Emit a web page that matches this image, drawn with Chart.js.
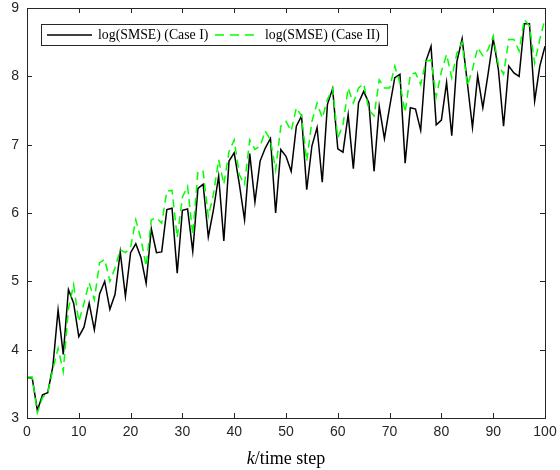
<!DOCTYPE html>
<html>
<head>
<meta charset="utf-8">
<script src="https://cdn.jsdelivr.net/npm/chart.js@4.4.1/dist/chart.umd.min.js"></script>
<style>
  html, body { margin: 0; padding: 0; background: #fff; }
  #chart { display: block; }
</style>
</head>
<body>
<canvas id="chart" width="560" height="470"></canvas>
<script>
// time steps k = 0..100
const steps = [
  0, 1, 2, 3, 4, 5, 6, 7, 8, 9, 10, 11, 12, 13, 14, 15, 16, 17, 18, 19,
  20, 21, 22, 23, 24, 25, 26, 27, 28, 29, 30, 31, 32, 33, 34, 35, 36, 37, 38, 39,
  40, 41, 42, 43, 44, 45, 46, 47, 48, 49, 50, 51, 52, 53, 54, 55, 56, 57, 58, 59,
  60, 61, 62, 63, 64, 65, 66, 67, 68, 69, 70, 71, 72, 73, 74, 75, 76, 77, 78, 79,
  80, 81, 82, 83, 84, 85, 86, 87, 88, 89, 90, 91, 92, 93, 94, 95, 96, 97, 98, 99, 100
];

const caseI = [
  3.59, 3.59, 3.11, 3.34, 3.37, 3.76, 4.58, 3.93, 4.88, 4.68,
  4.19, 4.33, 4.68, 4.29, 4.81, 5.00, 4.59, 4.81, 5.43, 4.78,
  5.42, 5.55, 5.35, 4.97, 5.77, 5.42, 5.43, 6.05, 6.07, 5.12,
  6.04, 6.06, 5.44, 6.36, 6.42, 5.65, 6.05, 6.54, 5.59, 6.76,
  6.88, 6.42, 5.90, 6.87, 6.16, 6.76, 6.95, 7.09, 6.00, 6.93,
  6.83, 6.61, 7.27, 7.42, 6.34, 6.98, 7.25, 6.45, 7.59, 7.82,
  6.94, 6.89, 7.44, 6.65, 7.61, 7.78, 7.61, 6.61, 7.56, 7.09,
  7.55, 7.98, 8.03, 6.73, 7.54, 7.52, 7.21, 8.22, 8.44, 7.29,
  7.36, 7.91, 7.13, 8.22, 8.55, 7.91, 7.25, 8.01, 7.54, 8.03,
  8.55, 8.10, 7.27, 8.15, 8.05, 8.00, 8.77, 8.77, 7.64, 8.15, 8.44
];

const caseII = [
  3.60, 3.60, 3.08, 3.30, 3.37, 3.71, 4.02, 3.68, 4.60, 4.95,
  4.41, 4.68, 4.98, 4.73, 5.27, 5.32, 5.00, 5.20, 5.46, 5.42,
  5.50, 5.90, 5.62, 5.22, 5.90, 5.93, 5.85, 6.32, 6.33, 5.64,
  6.23, 6.39, 5.68, 6.61, 6.61, 5.95, 6.28, 6.78, 6.42, 6.90,
  7.07, 6.56, 6.42, 7.07, 6.93, 6.98, 7.20, 7.07, 6.63, 7.27,
  7.34, 7.20, 7.54, 7.42, 6.76, 7.34, 7.61, 7.39, 7.66, 7.82,
  7.10, 7.29, 7.83, 7.61, 7.83, 7.89, 7.51, 7.42, 7.95, 7.83,
  7.83, 8.15, 7.90, 7.47, 8.03, 8.05, 7.88, 8.22, 8.24, 7.70,
  8.07, 8.32, 7.98, 8.34, 8.50, 7.86, 8.10, 8.42, 8.30, 8.39,
  8.59, 8.17, 8.03, 8.54, 8.54, 8.37, 8.83, 8.74, 8.19, 8.54, 8.84
];

const seriesLabels = ['log(SMSE) (Case I)', 'log(SMSE) (Case II)'];
const xTicks = [0, 10, 20, 30, 40, 50, 60, 70, 80, 90, 100];
const yTicks = [3, 4, 5, 6, 7, 8, 9];

const axisColor = '#262626';

// box, inward ticks on all four sides, legend and x title
const matlabStyle = {
  id: 'matlabStyle',
  afterDatasetsDraw(chart) {
    const { ctx, chartArea: a, scales } = chart;
    ctx.save();
    ctx.strokeStyle = axisColor;
    ctx.lineWidth = 1;
    ctx.beginPath();
    xTicks.forEach(v => {
      const px = Math.round(scales.x.getPixelForValue(v)) + 0.5;
      ctx.moveTo(px, a.bottom); ctx.lineTo(px, a.bottom - 5);
      ctx.moveTo(px, a.top); ctx.lineTo(px, a.top + 5);
    });
    yTicks.forEach(v => {
      const py = Math.round(scales.y.getPixelForValue(v)) + 0.5;
      ctx.moveTo(a.left, py); ctx.lineTo(a.left + 5, py);
      ctx.moveTo(a.right, py); ctx.lineTo(a.right - 5, py);
    });
    ctx.stroke();
    ctx.strokeRect(Math.round(a.left) + 0.5, Math.round(a.top) + 0.5,
      Math.round(a.right - a.left), Math.round(a.bottom - a.top));

    // legend
    const lx = 41.5, ly = 24.5, lw = 346, lh = 21;
    ctx.fillStyle = '#fff';
    ctx.fillRect(lx, ly, lw, lh);
    ctx.strokeStyle = axisColor;
    ctx.strokeRect(lx, ly, lw, lh);
    const midY = ly + lh / 2;
    ctx.font = '13.8px "Liberation Serif"';
    ctx.textBaseline = 'middle';
    ctx.fillStyle = '#000';

    ctx.lineWidth = 1.5;
    ctx.strokeStyle = '#000';
    ctx.beginPath(); ctx.moveTo(47, midY); ctx.lineTo(92, midY); ctx.stroke();
    ctx.fillText(seriesLabels[0], 98, midY + 0.5);

    ctx.strokeStyle = '#00ff00';
    ctx.setLineDash([9, 6]);
    ctx.beginPath(); ctx.moveTo(215, midY); ctx.lineTo(259, midY); ctx.stroke();
    ctx.setLineDash([]);
    ctx.fillText(seriesLabels[1], 265, midY + 0.5);

    // x axis title, italic k
    const t1 = 'k', t2 = '/time step';
    const fs = '18px "Liberation Serif"';
    ctx.font = 'italic ' + fs;
    const w1 = ctx.measureText(t1).width;
    ctx.font = fs;
    const w2 = ctx.measureText(t2).width;
    const cx = (a.left + a.right) / 2;
    const x0 = cx - (w1 + w2) / 2;
    ctx.textBaseline = 'alphabetic';
    ctx.fillStyle = '#000';
    ctx.font = 'italic ' + fs;
    ctx.fillText(t1, x0, 464);
    ctx.font = fs;
    ctx.fillText(t2, x0 + w1, 464);
    ctx.restore();
  }
};

new Chart(document.getElementById('chart'), {
  type: 'line',
  data: {
    datasets: [
      {
        label: seriesLabels[0],
        data: caseI.map((v, i) => ({ x: steps[i], y: v })),
        borderColor: '#000000',
        borderWidth: 1.5,
        pointRadius: 0,
        tension: 0,
        fill: false,
        order: 1
      },
      {
        label: seriesLabels[1],
        data: caseII.map((v, i) => ({ x: steps[i], y: v })),
        borderColor: '#00ff00',
        borderWidth: 1.5,
        borderDash: [8, 5],
        pointRadius: 0,
        tension: 0,
        fill: false,
        order: 0
      }
    ]
  },
  options: {
    responsive: false,
    animation: false,
    layout: { padding: { top: 8, right: 15, left: 0, bottom: 0 } },
    plugins: {
      legend: { display: false },
      tooltip: { enabled: false }
    },
    scales: {
      x: {
        type: 'linear',
        min: 0,
        max: 100,
        afterBuildTicks: s => { s.ticks = xTicks.map(v => ({ value: v })); },
        afterFit: s => { s.height = 52; s.paddingRight = 0; s.paddingLeft = 0; },
        grid: { display: false, drawTicks: false },
        border: { display: false },
        ticks: {
          color: axisColor,
          font: { family: '"Liberation Sans"', size: 14 },
          padding: 6,
          maxRotation: 0
        }
      },
      y: {
        min: 3,
        max: 9,
        afterBuildTicks: s => { s.ticks = yTicks.map(v => ({ value: v })); },
        afterFit: s => { s.width = 27; s.paddingTop = 0; s.paddingBottom = 0; },
        grid: { display: false, drawTicks: false },
        border: { display: false },
        ticks: {
          color: axisColor,
          font: { family: '"Liberation Sans"', size: 14 },
          padding: 8
        }
      }
    }
  },
  plugins: [matlabStyle]
});
</script>
</body>
</html>
